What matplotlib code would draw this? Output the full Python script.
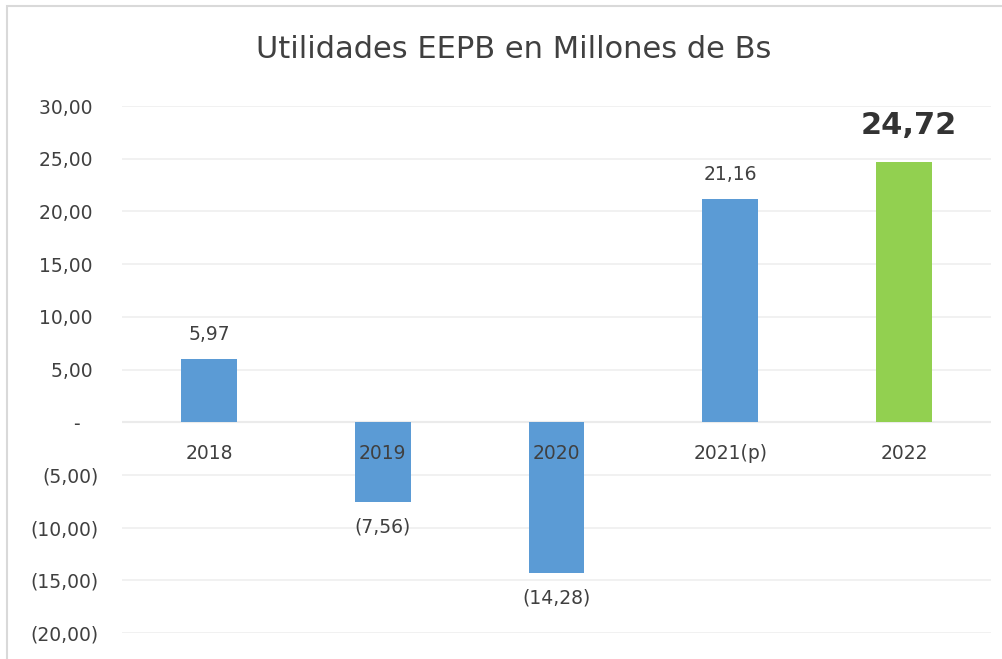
import matplotlib
matplotlib.use("Agg")
import matplotlib.pyplot as plt
from matplotlib.patches import Rectangle

# data
years = ["2018", "2019", "2020", "2021(p)", "2022"]
utilidades = [5.97, -7.56, -14.28, 21.16, 24.72]
bar_colors = ["#5B9BD5", "#5B9BD5", "#5B9BD5", "#5B9BD5", "#92D050"]
y_ticks = [30, 25, 20, 15, 10, 5, 0, -5, -10, -15, -20]


def fmt_num(v):
    s = f"{abs(v):.2f}".replace(".", ",")
    if v < 0:
        return f"({s})"
    return s


def fmt_tick(v):
    if v == 0:
        return "-   "
    if v < 0:
        return fmt_num(v)
    return fmt_num(v) + " "


text_col = "#404040"

fig = plt.figure(figsize=(10.03, 6.59), dpi=100)
fig.patches.append(Rectangle((7 / 1003, -0.1), 1.2, 1.1 - 6 / 659,
                             transform=fig.transFigure, fill=False,
                             edgecolor="#D9D9D9", linewidth=1.5))

ax = fig.add_axes([122 / 1003, 1 - 633 / 659, (991 - 122) / 1003, (633 - 106) / 659])

x = range(len(years))
bars = ax.bar(x, utilidades, width=0.32, color=bar_colors, zorder=2)

ax.set_ylim(-20, 30)
ax.set_xlim(-0.5, len(years) - 0.5)
ax.set_yticks(y_ticks)
ax.set_yticklabels([fmt_tick(v) for v in y_ticks], fontsize=13.5, color=text_col)
ax.tick_params(axis="y", length=0, pad=17)
ax.set_xticks([])
ax.grid(axis="y", color="#EFEFEF", linewidth=1.2, zorder=0)
for s in ax.spines.values():
    s.set_visible(False)
ax.axhline(0, color="#D9D9D9", linewidth=1.5, zorder=1)

# category labels sit just below the zero line
for i, name in enumerate(years):
    ax.annotate(name, (i, 0), xytext=(0, -22.5), textcoords="offset points",
                ha="center", va="center", fontsize=13.5, color=text_col, zorder=3)

# data labels
for i, v in enumerate(utilidades):
    if i == len(utilidades) - 1:
        ax.annotate(fmt_num(v), (i, v), xytext=(3, 26), textcoords="offset points",
                    ha="center", va="center", fontsize=22, fontweight="bold",
                    color="#333333")
    elif v >= 0:
        ax.annotate(fmt_num(v), (i, v), xytext=(0, 18), textcoords="offset points",
                    ha="center", va="center", fontsize=13.5, color=text_col)
    else:
        ax.annotate(fmt_num(v), (i, v), xytext=(0, -18), textcoords="offset points",
                    ha="center", va="center", fontsize=13.5, color=text_col)

fig.text(514 / 1003, 1 - 50 / 659, "Utilidades EEPB en Millones de Bs",
         ha="center", va="center", fontsize=22, color=text_col)

fig.savefig("out.png", dpi=100, facecolor="white")
